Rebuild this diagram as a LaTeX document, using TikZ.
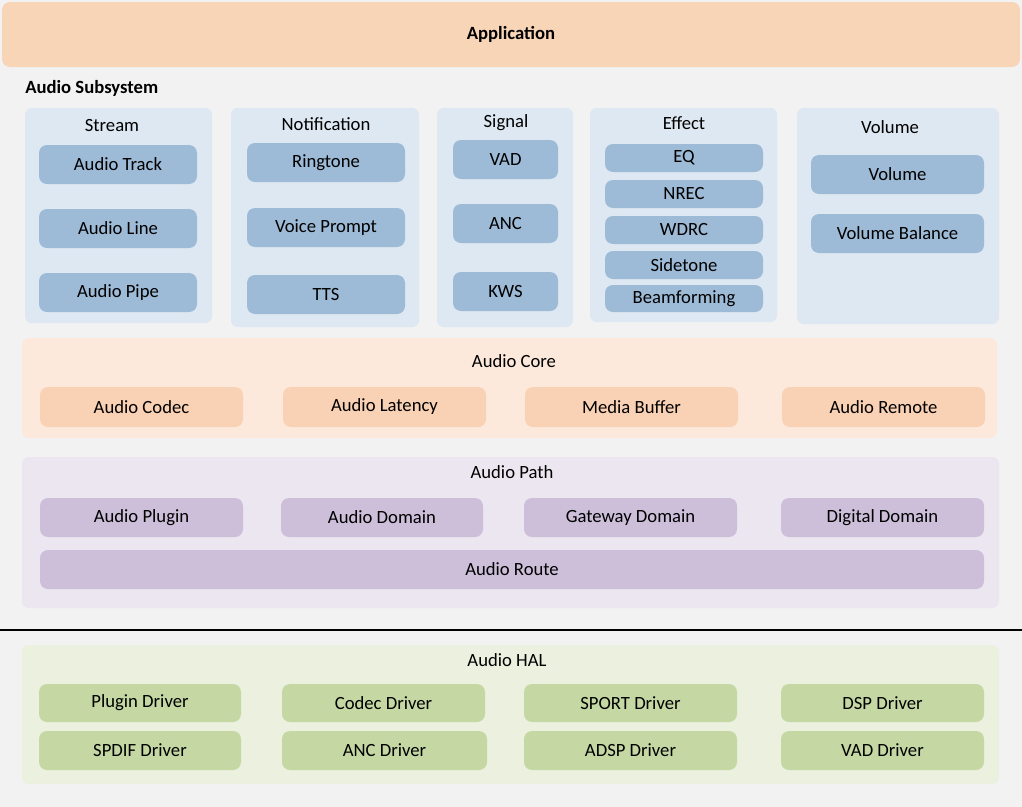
\documentclass[tikz,border=0pt]{standalone}
\usepackage{fontspec}
\setmainfont{Carlito}
\begin{document}
\begin{tikzpicture}[
        x=0.75pt, y=-0.75pt,
        every node/.style={font=\fontsize{14}{16}\selectfont, inner sep=0pt},
        group/.style={draw=none, rounded corners=5pt},
        item/.style={draw=none, rounded corners=6pt},
        title/.style={anchor=center}
    ]
    \definecolor{bgGray}{HTML}{F2F2F2}
    \definecolor{appOrange}{HTML}{F9D5B7}
    \definecolor{grpBlue}{HTML}{DEE8F2}
    \definecolor{itmBlue}{HTML}{9DBAD6}
    \definecolor{grpOrange}{HTML}{FCE9DB}
    \definecolor{itmOrange}{HTML}{F9D1B4}
    \definecolor{grpPurple}{HTML}{EBE6EF}
    \definecolor{itmPurple}{HTML}{CDBFDA}
    \definecolor{grpGreen}{HTML}{EBF1DE}
    \definecolor{itmGreen}{HTML}{C5D8A4}
    % block: style, name, x1, y1, x2, y2, text
    \newcommand\blk[7]{%
        \node[#1, minimum width={(#5-#3)*0.75pt}, minimum height={(#6-#4)*0.75pt}]
            (#2) at ({(#3+#5)/2},{(#4+#6)/2}) {#7};}
    \useasboundingbox (0,0) rectangle (1022,807);
    \fill[bgGray] (0,0) rectangle (1022,807);

    % application
    \blk{item, fill=appOrange, font=\fontsize{14}{16}\selectfont\bfseries}{app}{2}{2}{1020}{67}{Application}
    \node[anchor=west, font=\fontsize{14}{16}\selectfont\bfseries] (sub) at (25,88) {Audio Subsystem};

    % upper groups
    \blk{group, fill=grpBlue}{stream}{25}{108}{212}{323}{}
    \blk{group, fill=grpBlue}{notif}{231}{108}{419}{327}{}
    \blk{group, fill=grpBlue}{signal}{437}{108}{573}{327}{}
    \blk{group, fill=grpBlue}{effect}{590}{108}{777}{322}{}
    \blk{group, fill=grpBlue}{volume}{797}{108}{999}{324}{}
    \node[title] (stream-t) at (112,126) {Stream};
    \node[title] (notif-t) at (326,124) {Notification};
    \node[title] (signal-t) at (506,123) {Signal};
    \node[title] (effect-t) at (684,123) {Effect};
    \node[title] (volume-t) at (890,127) {Volume};

    \foreach \name/\ya/\yb/\txt in {track/145/184/Audio Track, line/209/248/Audio Line, pipe/273/312/Audio Pipe}
        {\blk{item, fill=itmBlue}{\name}{39}{\ya}{197}{\yb}{\txt}}
    \foreach \name/\ya/\yb/\txt in {ring/143/182/Ringtone, prompt/208/247/Voice Prompt, tts/275/314/TTS}
        {\blk{item, fill=itmBlue}{\name}{247}{\ya}{405}{\yb}{\txt}}
    \foreach \name/\ya/\yb/\txt in {vad/140/179/VAD, anc/204/243/ANC, kws/272/311/KWS}
        {\blk{item, fill=itmBlue}{\name}{453}{\ya}{558}{\yb}{\txt}}
    \foreach \name/\ya/\yb/\txt in {eq/144/172/EQ, nrec/180/208/NREC, wdrc/216/244/WDRC,
                                    side/251/279/Sidetone, beam/285/312/Beamforming}
        {\blk{item, fill=itmBlue}{\name}{605}{\ya}{763}{\yb}{\txt}}
    \blk{item, fill=itmBlue}{vol}{811}{155}{984}{194}{Volume}
    \blk{item, fill=itmBlue}{bal}{811}{214}{984}{253}{Volume Balance}

    % audio core
    \blk{group, fill=grpOrange}{core}{22}{338}{997}{438}{}
    \node[title] (core-t) at (514,361) {Audio Core};
    \foreach \name/\xa/\xb/\txt in {codec/40/243/Audio Codec, latency/283/486/Audio Latency,
                                    buffer/525/738/Media Buffer, remote/782/985/Audio Remote}
        {\blk{item, fill=itmOrange}{\name}{\xa}{387}{\xb}{427}{\txt}}

    % audio path
    \blk{group, fill=grpPurple}{path}{22}{457}{999}{608}{}
    \node[title] (path-t) at (512,472) {Audio Path};
    \foreach \name/\xa/\xb/\txt in {plugin/40/243/Audio Plugin, domain/281/483/Audio Domain,
                                    gateway/524/737/Gateway Domain, digital/781/984/Digital Domain}
        {\blk{item, fill=itmPurple}{\name}{\xa}{498}{\xb}{537}{\txt}}
    \blk{item, fill=itmPurple}{route}{40}{550}{984}{589}{Audio Route}

    % separator
    \draw[black, line width=0.8pt] (0,630) -- (1022,630);

    % audio hal
    \blk{group, fill=grpGreen}{hal}{22}{645}{999}{784}{}
    \node[title] (hal-t) at (507,660) {Audio HAL};
    \foreach \name/\xa/\xb/\txt in {plugdrv/39/241/Plugin Driver, codecdrv/282/485/Codec Driver,
                                    sportdrv/524/737/SPORT Driver, dspdrv/781/984/DSP Driver}
        {\blk{item, fill=itmGreen}{\name}{\xa}{684}{\xb}{722}{\txt}}
    \foreach \name/\xa/\xb/\txt in {spdifdrv/39/241/SPDIF Driver, ancdrv/282/487/ANC Driver,
                                    adspdrv/524/737/ADSP Driver, vaddrv/781/984/VAD Driver}
        {\blk{item, fill=itmGreen}{\name}{\xa}{731}{\xb}{770}{\txt}}
\end{tikzpicture}
\end{document}
